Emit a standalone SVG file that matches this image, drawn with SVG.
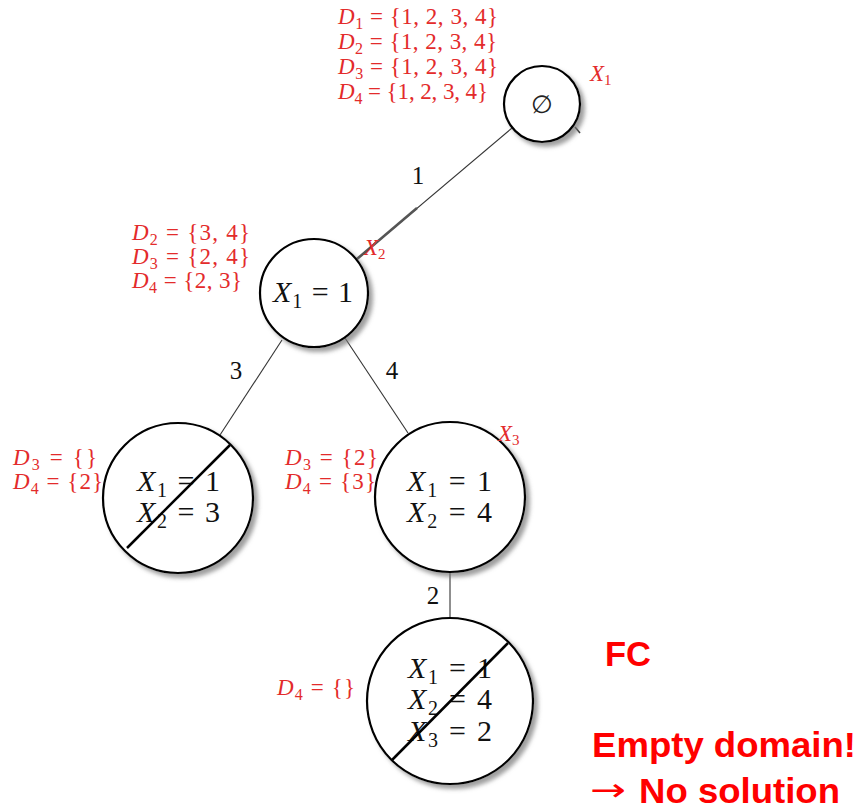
<svg xmlns="http://www.w3.org/2000/svg" width="862" height="809" viewBox="0 0 862 809">
<defs>
<filter id="sh" x="-20%" y="-20%" width="150%" height="150%">
<feDropShadow dx="4" dy="4" stdDeviation="2" flood-color="#777" flood-opacity="0.7"/>
</filter>
</defs>
<style>
.node{fill:#fff;stroke:#000;stroke-width:2.2;filter:url(#sh)}
.edge{stroke:#333;stroke-width:1.1;fill:none}
.strike{stroke:#000;stroke-width:2.5}
.m{font-family:"Liberation Serif","DejaVu Serif",serif;font-size:30px;fill:#111}
.d{font-family:"Liberation Serif","DejaVu Serif",serif;font-size:23px;fill:#e32b2b}
.lbl{font-family:"Liberation Serif","DejaVu Serif",serif;font-size:25px;fill:#111;text-anchor:middle}
.i{font-style:italic}
.big{font-family:"Liberation Sans",Arial,sans-serif;font-weight:bold;font-size:35px;fill:#ff0000}
</style>
<rect width="862" height="809" fill="#fff"/>
<g id="connectors">
<line class="edge" x1="512" y1="128" x2="357" y2="259"/>
<line x1="357" y1="259" x2="417" y2="208" stroke="#555" stroke-width="2.6"/>
<line x1="575" y1="127" x2="580" y2="133" stroke="#333" stroke-width="1.5"/>
<line class="edge" x1="282" y1="340" x2="220" y2="435"/>
<line class="edge" x1="345" y1="338" x2="408" y2="433"/>
<line class="edge" x1="450" y1="572" x2="450" y2="619"/>
<text class="lbl" x="418" y="184">1</text>
<text class="lbl" x="236" y="379">3</text>
<text class="lbl" x="392" y="379">4</text>
<text class="lbl" x="433" y="604">2</text>
</g>
<g id="root">
<circle class="node" cx="542" cy="104" r="38"/>
<text x="542" y="113" text-anchor="middle" font-family="DejaVu Serif,serif" font-size="25" fill="#222">∅</text>
<text class="d" x="590" y="81" font-size="21"><tspan class="i">X</tspan><tspan font-size="15" dy="4">1</tspan></text>
<text class="d" x="338" y="24" textLength="160" lengthAdjust="spacing"><tspan class="i">D</tspan><tspan font-size="16" dy="5">1</tspan><tspan dy="-5"> = {1, 2, 3, 4}</tspan></text>
<text class="d" x="338" y="49" textLength="159" lengthAdjust="spacing"><tspan class="i">D</tspan><tspan font-size="16" dy="5">2</tspan><tspan dy="-5"> = {1, 2, 3, 4}</tspan></text>
<text class="d" x="338" y="74" textLength="160" lengthAdjust="spacing"><tspan class="i">D</tspan><tspan font-size="16" dy="5">3</tspan><tspan dy="-5"> = {1, 2, 3, 4}</tspan></text>
<text class="d" x="338" y="99" textLength="150" lengthAdjust="spacing"><tspan class="i">D</tspan><tspan font-size="16" dy="5">4</tspan><tspan dy="-5"> = {1, 2, 3, 4}</tspan></text>
</g>
<g id="n1">
<circle class="node" cx="314" cy="293" r="54"/>
<text class="m" x="273" y="302" textLength="80" lengthAdjust="spacing"><tspan class="i">X</tspan><tspan font-size="20" dy="6">1</tspan><tspan dy="-6"> = 1</tspan></text>
<text class="d" x="364" y="255" font-size="20"><tspan class="i">X</tspan><tspan font-size="15" dy="4">2</tspan></text>
<text class="d" x="132" y="240" textLength="118" lengthAdjust="spacing"><tspan class="i">D</tspan><tspan font-size="16" dy="5">2</tspan><tspan dy="-5"> = {3, 4}</tspan></text>
<text class="d" x="132" y="264" textLength="118" lengthAdjust="spacing"><tspan class="i">D</tspan><tspan font-size="16" dy="5">3</tspan><tspan dy="-5"> = {2, 4}</tspan></text>
<text class="d" x="132" y="288" textLength="110" lengthAdjust="spacing"><tspan class="i">D</tspan><tspan font-size="16" dy="5">4</tspan><tspan dy="-5"> = {2, 3}</tspan></text>
</g>
<g id="n2">
<circle class="node" cx="178" cy="498" r="75"/>
<text class="m" x="137" y="491" textLength="83" lengthAdjust="spacing"><tspan class="i">X</tspan><tspan font-size="20" dy="6">1</tspan><tspan dy="-6"> = 1</tspan></text>
<text class="m" x="137" y="522" textLength="83" lengthAdjust="spacing"><tspan class="i">X</tspan><tspan font-size="20" dy="6">2</tspan><tspan dy="-6"> = 3</tspan></text>
<line class="strike" x1="230" y1="445" x2="127" y2="548"/>
<text class="d" x="13" y="465" textLength="84" lengthAdjust="spacing"><tspan class="i">D</tspan><tspan font-size="16" dy="5">3</tspan><tspan dy="-5"> = {}</tspan></text>
<text class="d" x="13" y="489" textLength="90" lengthAdjust="spacing"><tspan class="i">D</tspan><tspan font-size="16" dy="5">4</tspan><tspan dy="-5"> = {2}</tspan></text>
</g>
<g id="n3">
<circle class="node" cx="450" cy="497" r="75"/>
<text class="m" x="407" y="491" textLength="85" lengthAdjust="spacing"><tspan class="i">X</tspan><tspan font-size="20" dy="6">1</tspan><tspan dy="-6"> = 1</tspan></text>
<text class="m" x="407" y="522" textLength="85" lengthAdjust="spacing"><tspan class="i">X</tspan><tspan font-size="20" dy="6">2</tspan><tspan dy="-6"> = 4</tspan></text>
<text class="d" x="498" y="441" font-size="20"><tspan class="i">X</tspan><tspan font-size="15" dy="4">3</tspan></text>
<text class="d" x="285" y="465" textLength="93" lengthAdjust="spacing"><tspan class="i">D</tspan><tspan font-size="16" dy="5">3</tspan><tspan dy="-5"> = {2}</tspan></text>
<text class="d" x="285" y="489" textLength="91" lengthAdjust="spacing"><tspan class="i">D</tspan><tspan font-size="16" dy="5">4</tspan><tspan dy="-5"> = {3}</tspan></text>
</g>
<g id="n4">
<circle class="node" cx="450" cy="701" r="83"/>
<text class="m" x="408" y="678" textLength="84" lengthAdjust="spacing"><tspan class="i">X</tspan><tspan font-size="20" dy="6">1</tspan><tspan dy="-6"> = 1</tspan></text>
<text class="m" x="408" y="709" textLength="84" lengthAdjust="spacing"><tspan class="i">X</tspan><tspan font-size="20" dy="6">2</tspan><tspan dy="-6"> = 4</tspan></text>
<text class="m" x="408" y="741" textLength="84" lengthAdjust="spacing"><tspan class="i">X</tspan><tspan font-size="20" dy="6">3</tspan><tspan dy="-6"> = 2</tspan></text>
<line class="strike" x1="508" y1="643" x2="392" y2="760"/>
<text class="d" x="277" y="695" textLength="78" lengthAdjust="spacing" fill="#c8404a"><tspan class="i">D</tspan><tspan font-size="16" dy="5">4</tspan><tspan dy="-5"> = {}</tspan></text>
</g>
<g id="notes">
<text class="big" x="605" y="666" textLength="46" lengthAdjust="spacingAndGlyphs">FC</text>
<text class="big" x="592" y="757" textLength="264" lengthAdjust="spacingAndGlyphs">Empty domain!</text>
<text x="590" y="801" font-family="DejaVu Sans,sans-serif" font-size="32" fill="#ff0000" textLength="36" lengthAdjust="spacingAndGlyphs">→</text>
<text class="big" x="639" y="803" textLength="201" lengthAdjust="spacingAndGlyphs">No solution</text>
</g>
</svg>
